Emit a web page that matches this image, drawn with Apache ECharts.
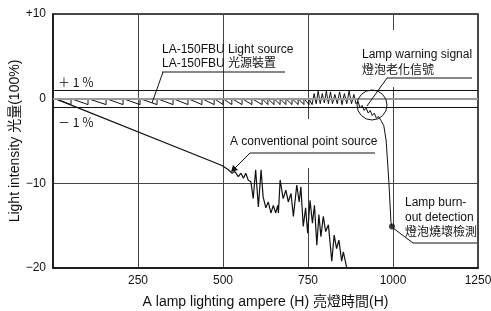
<!DOCTYPE html>
<html>
<head>
<meta charset="utf-8">
<script src="https://cdn.jsdelivr.net/npm/echarts@6/dist/echarts.min.js"></script>
<style>
  html, body { margin: 0; padding: 0; background: #fff; }
  #chart { width: 491px; height: 311px; }
</style>
</head>
<body>
<div id="chart"></div>
<script>
// axis ticks
var xMin = 0, xMax = 1250, xStep = 250;
var yMin = -20, yMax = 10, yStep = 10;
// +1% / 0 / -1% reference lines
var refLines = [1, 0, -1];

// LA-150FBU light source (hours, %)
var lampPoints = [
  [6, 0], [53, -0.7], [53, 0], [103, -0.7], [103, 0], [156, -0.7], [156, 0],
  [206, -0.7], [206, 0], [256, -0.7], [256, 0], [306, -0.7], [306, 0],
  [353, -0.7], [353, 0], [397, -0.7], [397, 0], [438, -0.7], [438, 0],
  [474, -0.7], [474, 0], [500, -0.7], [500, 0], [526, -0.7], [526, 0],
  [556, -0.7], [556, 0], [585, -0.7], [585, 0], [615, -0.7], [615, 0],
  [632, -0.7], [632, 0], [650, -0.7], [650, 0], [668, -0.7], [668, 0],
  [685, -0.7], [685, 0], [703, -0.7], [703, 0], [721, -0.7], [721, 0],
  [738, -0.7], [738, 0], [753, -0.7], [753, 0],
  [762, -0.7], [768, 0.6], [774, -0.6], [780, 0.9], [786, -0.6], [792, 0.6],
  [798, -0.5], [804, 0.9], [810, -0.6], [816, 0.8], [822, -0.6], [829, 0.5],
  [836, -0.6], [843, 0.8], [850, -0.7], [857, 0.6], [864, -0.6], [871, 0.9],
  [878, -0.6], [885, 0.5], [891, -0.6], [897, -0.3], [903, -1.1], [909, -0.8],
  [915, -1.4], [921, -1.1], [927, -1.7], [933, -1.4], [939, -2.0], [945, -1.7],
  [951, -2.3], [957, -2.1], [965, -2.6], [973, -3.2], [980, -5.0], [988, -9.9],
  [994, -14.6], [997, -15.1]
];

// conventional point source
var convPoints = [
  [6, 0], [497, -7.9], [516, -8.4], [526, -8.8], [535, -8.6], [545, -9.2],
  [553, -8.8], [560, -9.4], [567, -8.8], [574, -9.6], [582, -9.8], [589, -11.8],
  [596, -8.4], [604, -12.8], [612, -8.4], [618, -11.6], [626, -12.9], [633, -12.2],
  [641, -13.5], [648, -12.6], [655, -13.5], [661, -12.6], [663, -13.5], [668, -9.6],
  [677, -11.8], [685, -10.8], [692, -12.2], [700, -11.2], [707, -13.9], [717, -10.2],
  [724, -12.2], [729, -10.4], [736, -15.1], [743, -12.9], [749, -15.9], [756, -12.0],
  [763, -14.7], [769, -12.6], [776, -17.3], [782, -13.7], [788, -16.3], [795, -13.9],
  [802, -15.7], [810, -14.9], [820, -19.2], [827, -16.1], [834, -17.7], [841, -16.7],
  [849, -19.2], [854, -18.1], [864, -20]
];

// lamp burn-out detection point
var burnPoint = [[997, -15.1]];

var FONT = '"Liberation Sans", Arial, "Noto Sans CJK TC", sans-serif';
var CJK = '"Noto Sans CJK TC", sans-serif';

var chart = echarts.init(document.getElementById('chart'), null, { renderer: 'canvas' });

function txt(text, x, y, extra) {
  var style = {
    text: text, x: x, y: y,
    font: '12px ' + FONT, fill: '#111',
    align: 'left', verticalAlign: 'middle'
  };
  if (extra) { for (var k in extra) style[k] = extra[k]; }
  return { type: 'text', z: 20, style: style };
}
function seg(x1, y1, x2, y2) {
  return { type: 'line', z: 20, shape: { x1: x1, y1: y1, x2: x2, y2: y2 },
    style: { stroke: '#111', lineWidth: 1 } };
}

var option = {
  backgroundColor: '#ffffff',
  animation: false,
  grid: {
    left: 53, top: 14, right: 13, bottom: 43,
    outerBoundsMode: 'none',
    containLabel: false,
    show: true, borderColor: '#111', borderWidth: 1.5
  },
  xAxis: {
    type: 'value', min: xMin, max: xMax, interval: xStep,
    name: 'A lamp lighting ampere (H) 亮燈時間(H)',
    nameLocation: 'middle', nameGap: 27, nameMoveOverlap: false,
    nameTextStyle: { fontSize: 14, color: '#111', fontFamily: FONT },
    axisLine: { onZero: false, lineStyle: { color: '#111', width: 1.5 } },
    axisTick: { show: false },
    axisLabel: {
      color: '#111', fontSize: 12, fontFamily: FONT, margin: 7,
      formatter: function (v) { return v === 0 ? '' : String(v); }
    },
    splitLine: { show: true, lineStyle: { color: '#444', width: 1 } }
  },
  yAxis: {
    type: 'value', min: yMin, max: yMax, interval: yStep,
    name: 'Light intensity 光量(100%)',
    nameLocation: 'middle', nameGap: 31, nameMoveOverlap: false,
    nameTextStyle: { fontSize: 14, color: '#111', fontFamily: FONT },
    axisLine: { lineStyle: { color: '#111', width: 1.5 } },
    axisTick: { show: false },
    axisLabel: {
      color: '#111', fontSize: 12, fontFamily: FONT, margin: 7,
      formatter: function (v) { return v > 0 ? '+' + v : (v < 0 ? '\u2212' + (-v) : '0'); }
    },
    splitLine: { show: true, lineStyle: { color: '#444', width: 1 } }
  },
  series: [
    {
      name: 'LA-150FBU',
      type: 'line',
      data: lampPoints,
      showSymbol: false,
      lineStyle: { color: '#111', width: 1 },
      markLine: {
        silent: true, symbol: 'none', label: { show: false },
        data: refLines.map(function (v) {
          return {
            yAxis: v,
            lineStyle: v === 0
              ? { color: '#9a9a9a', width: 2, type: 'solid' }
              : { color: '#111', width: 1, type: 'solid' }
          };
        })
      },
      z: 3
    },
    {
      name: 'conventional',
      type: 'line',
      data: convPoints,
      showSymbol: false,
      lineStyle: { color: '#111', width: 1.2 },
      z: 3
    },
    {
      name: 'burn-out',
      type: 'scatter',
      data: burnPoint,
      symbolSize: 6,
      itemStyle: { color: '#111' },
      z: 4
    }
  ],
  graphic: [
    // gaps in the grid lines behind the labels
    { type: 'rect', z: 1, shape: { x: 304, y: 119, width: 8, height: 49 }, style: { fill: '#fff' } },
    { type: 'rect', z: 1, shape: { x: 389, y: 30, width: 8, height: 57 }, style: { fill: '#fff' } },

    txt('LA-150FBU Light source', 162, 50),
    txt('LA-150FBU 光源裝置', 162, 64),
    seg(162, 72, 285, 72),
    seg(163, 72, 152, 103),

    txt('Lamp warning signal', 362, 55),
    txt('燈泡老化信號', 362, 71),
    seg(387, 78, 472, 78),
    seg(387, 78, 367, 106),
    { type: 'circle', z: 20, shape: { cx: 372, cy: 105, r: 15 },
      style: { fill: 'none', stroke: '#111', lineWidth: 1 } },

    txt('A conventional point source', 230, 142),
    seg(250, 153, 375, 153),
    seg(250, 153, 233, 170),
    { type: 'polygon', z: 20, shape: { points: [[231, 172], [233, 165], [238, 170]] },
      style: { fill: '#111' } },

    txt('Lamp burn-', 405, 203),
    txt('out detection', 405, 218),
    txt('燈泡燒壞檢測', 405, 233),
    seg(413, 243, 477, 243),
    seg(393, 228, 413, 243),

    txt('＋ 1 ％', 58, 82, { font: '12px ' + CJK }),
    txt('－ 1 ％', 58, 122, { font: '12px ' + CJK })
  ]
};

chart.setOption(option);
</script>
</body>
</html>
